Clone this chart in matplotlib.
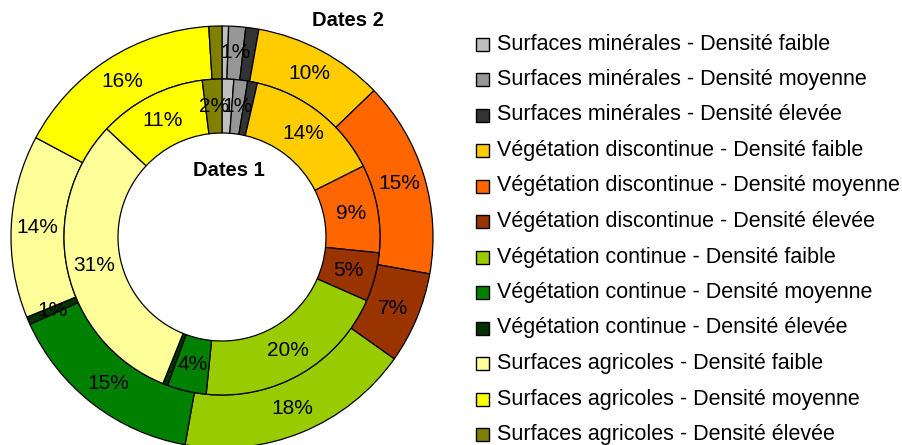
import numpy as np
import matplotlib
matplotlib.use("Agg")
import matplotlib.pyplot as plt
from matplotlib.patches import Rectangle

plt.rcParams['font.family'] = ['Liberation Sans', 'DejaVu Sans']

categories = [
    "Surfaces minérales - Densité faible",
    "Surfaces minérales - Densité moyenne",
    "Surfaces minérales - Densité élevée",
    "Végétation discontinue - Densité faible",
    "Végétation discontinue - Densité moyenne",
    "Végétation discontinue - Densité élevée",
    "Végétation continue - Densité faible",
    "Végétation continue - Densité moyenne",
    "Végétation continue - Densité élevée",
    "Surfaces agricoles - Densité faible",
    "Surfaces agricoles - Densité moyenne",
    "Surfaces agricoles - Densité élevée",
]
colors = ["#C0C0C0", "#969696", "#333333", "#FFCC00", "#FF6600", "#993300",
          "#99CC00", "#008000", "#003300", "#FFFF99", "#FFFF00", "#808000"]

dates1 = [1.2, 1.4, 1.0, 14, 9, 5, 20, 4, 0.5, 30.9, 11, 2]
dates1_labels = ["", "1%", "", "14%", "9%", "5%", "20%", "4%", "", "31%", "11%", "2%"]
dates2 = [0.5, 1.3, 1.0, 10, 15, 7, 18, 15.4, 0.6, 14, 16.2, 1.0]
dates2_labels = ["", "1%", "", "10%", "15%", "7%", "18%", "15%", "1%", "14%", "16%", ""]

W, H = 902, 445
fig = plt.figure(figsize=(W / 100, H / 100), dpi=100)
ax = fig.add_axes([0, 0, 1, 1])
cx, cy = 222, H - 237
r_out, r_mid, r_in = 211, 158, 104

wp = dict(edgecolor="black", linewidth=0.9)
w_out, _ = ax.pie(dates2, colors=colors, radius=r_out, center=(cx, cy),
                  startangle=90, counterclock=False, frame=True,
                  wedgeprops=dict(width=r_out - r_mid, **wp))
w_in, _ = ax.pie(dates1, colors=colors, radius=r_mid, center=(cx, cy),
                 startangle=90, counterclock=False, frame=True,
                 wedgeprops=dict(width=r_mid - r_in, **wp))

def put_labels(wedges, labels, rad):
    for w, lab in zip(wedges, labels):
        if not lab:
            continue
        a = np.deg2rad((w.theta1 + w.theta2) / 2)
        ax.text(cx + rad * np.cos(a), cy + rad * np.sin(a), lab,
                ha="center", va="center", fontsize=15, color="black")

put_labels(w_out, dates2_labels, 185)
put_labels(w_in, dates1_labels, 131)

ax.text(348, H - 21, "Dates 2", ha="center", va="center", fontsize=14.5, fontweight="bold")
ax.text(229, H - 171, "Dates 1", ha="center", va="center", fontsize=14.5, fontweight="bold")

for i, (lab, col) in enumerate(zip(categories, colors)):
    y = H - (44 + i * 35.5)
    ax.add_patch(Rectangle((476, y - 6.5), 13, 13, facecolor=col, edgecolor="black", linewidth=1))
    ax.text(497, y, lab, ha="left", va="center", fontsize=15.5, color="black")

ax.set_xlim(0, W)
ax.set_ylim(0, H)
ax.set_aspect("equal")
ax.axis("off")
fig.savefig("out.png", dpi=100)
